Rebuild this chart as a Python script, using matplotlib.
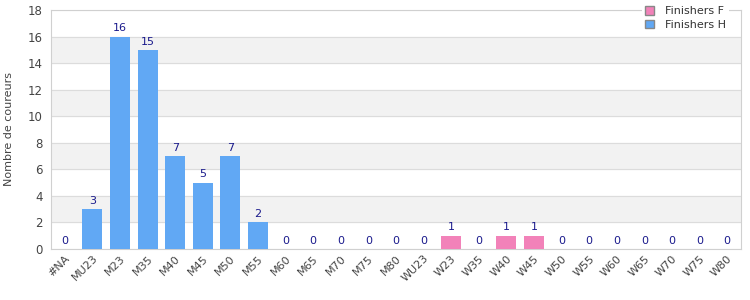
import matplotlib.pyplot as plt
import numpy as np
from matplotlib.patches import Patch

categories = ['#NA', 'MU23', 'M23', 'M35', 'M40', 'M45', 'M50', 'M55', 'M60', 'M65',
              'M70', 'M75', 'M80', 'WU23', 'W23', 'W35', 'W40', 'W45', 'W50', 'W55',
              'W60', 'W65', 'W70', 'W75', 'W80']
finishers_h = [0, 3, 16, 15, 7, 5, 7, 2, 0, 0, 0, 0, 0, 0, 0, 0, 0, 0, 0, 0, 0, 0, 0, 0, 0]
finishers_f = [0, 0, 0, 0, 0, 0, 0, 0, 0, 0, 0, 0, 0, 0, 1, 0, 1, 1, 0, 0, 0, 0, 0, 0, 0]

blue = '#61a8f4'
pink = '#f282b9'
label_col = '#1a1a8c'

fig = plt.figure(figsize=(7.5, 3), dpi=100)
ax = fig.add_axes([51 / 750, 51 / 300, 690 / 750, 239 / 300])

x = np.arange(len(categories))
h = np.array(finishers_h)
f = np.array(finishers_f)
ax.bar(x, h, width=0.72, color=blue, zorder=3)
ax.bar(x, f, bottom=h, width=0.72, color=pink, zorder=3)

for i in range(len(categories)):
    tot = h[i] + f[i]
    ax.text(x[i], tot + 0.25, str(tot), ha='center', va='bottom',
            fontsize=8, color=label_col, zorder=4)

ax.set_xlim(-0.5, len(categories) - 0.5)
ax.set_ylim(0, 18)
ax.set_yticks(range(0, 19, 2))
for k in range(2, 18, 4):
    ax.axhspan(k, k + 2, color='#f2f2f2', zorder=0)
ax.yaxis.grid(True, color='#dcdcdc', linewidth=0.8, zorder=1)
ax.set_axisbelow(True)

ax.set_xticks(x)
ax.set_xticklabels(categories, rotation=45, ha='right', rotation_mode='anchor',
                   fontsize=8, color='#444444')
ax.tick_params(axis='y', labelsize=8.5, colors='#444444', length=0, pad=6)
ax.tick_params(axis='x', length=0, pad=3)
ax.set_ylabel('Nombre de coureurs', fontsize=8, color='#444444', labelpad=10)

for s in ax.spines.values():
    s.set_color('#d0d0d0')

handles = [Patch(facecolor=pink, edgecolor='#888888', label='Finishers F'),
           Patch(facecolor=blue, edgecolor='#888888', label='Finishers H')]
leg = ax.legend(handles=handles, loc='upper right', bbox_to_anchor=(0.99, 1.05),
                fontsize=8, frameon=True, fancybox=False, edgecolor='none',
                handlelength=0.8, handleheight=0.8, borderpad=0.25, labelspacing=0.3,
                handletextpad=1.0)
leg.get_frame().set_facecolor('white')
leg.get_frame().set_alpha(1)
for t in leg.get_texts():
    t.set_color('#333333')

fig.savefig('out.png', dpi=100)
